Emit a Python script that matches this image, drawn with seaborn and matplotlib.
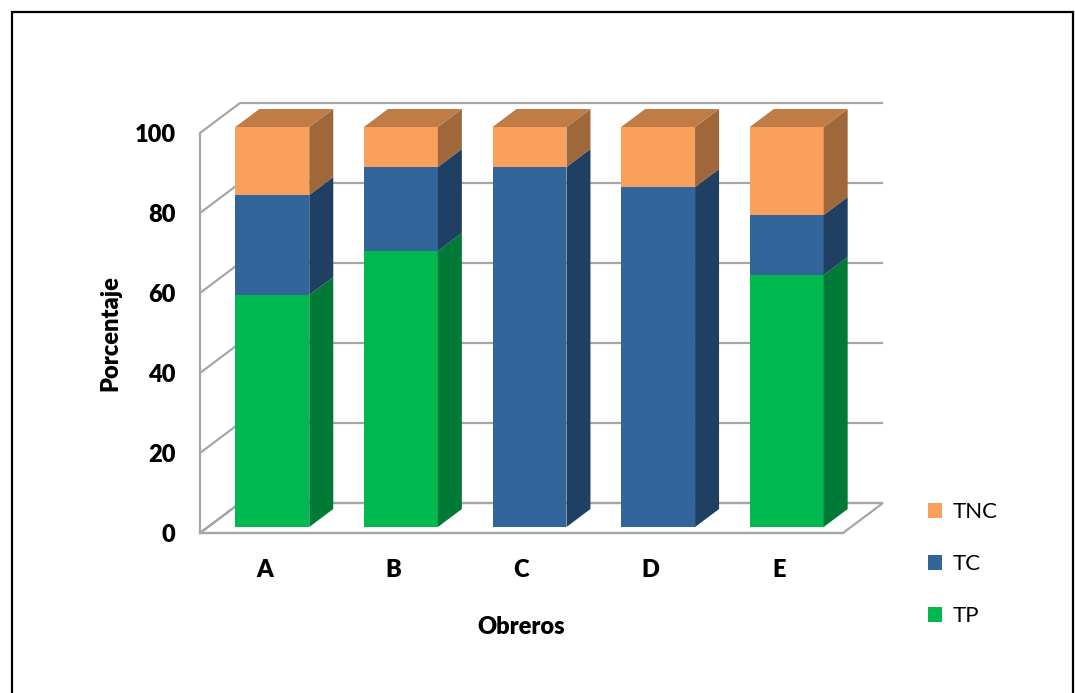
import numpy as np
import pandas as pd
import matplotlib
matplotlib.use("Agg")
import matplotlib.pyplot as plt
import seaborn as sns
from matplotlib.patches import Polygon, Rectangle, Patch

# ---------------- data ----------------
categories = ["A", "B", "C", "D", "E"]
tp = [58, 69, 0, 0, 63]
tc = [25, 21, 90, 85, 15]
tnc = [17, 10, 10, 15, 22]
y_ticks = [0, 20, 40, 60, 80, 100]
legend_labels = ["TNC", "TC", "TP"]

# ---------------- style ----------------
front_colors = {"TP": "#00B850", "TC": "#32659A", "TNC": "#F8A05C"}
side_colors = {"TP": "#007A36", "TC": "#1F3F63", "TNC": "#A0673A"}
top_colors = {"TP": "#00A048", "TC": "#2B5A8A", "TNC": "#C07C47"}
grid_c = "#A6A6A6"
bold_w = "heavy"

sns.set_style("white")
plt.rcParams["font.family"] = ["Lato", "DejaVu Sans"]
plt.rcParams["text.color"] = "black"
plt.rcParams["axes.labelcolor"] = "black"
plt.rcParams["xtick.labelcolor"] = "black"
plt.rcParams["ytick.labelcolor"] = "black"

W, H = 1075, 693
fig = plt.figure(figsize=(W / 100, H / 100), dpi=100)
ax = fig.add_axes([200 / W, 160 / H, 643 / W, 400 / H])

df = pd.DataFrame({"Obrero": categories, "TP": tp, "TC": tc, "TNC": tnc})
df["cum_TC"] = df["TP"] + df["TC"]
df["cum_TNC"] = df["cum_TC"] + df["TNC"]

bar_w = 0.575
dx_full, dy_full = 0.311, 7.5     # full depth of the 3-D box in data units
f0, f1 = 0.2, 0.8                 # bar front / back depth fractions

for col, name in [("cum_TNC", "TNC"), ("cum_TC", "TC"), ("TP", "TP")]:
    sns.barplot(data=df, x="Obrero", y=col, color=front_colors[name],
                saturation=1, width=bar_w, ax=ax, linewidth=0,
                errorbar=None, zorder=3)

for p in ax.patches:
    p.set_x(p.get_x() + f0 * dx_full)
    p.set_y(p.get_y() + f0 * dy_full)
    p.set_clip_on(False)

ax.set_xlim(-0.5, 4.5)
ax.set_ylim(0, 100)

# side and top faces
ddx = (f1 - f0) * dx_full
ddy = (f1 - f0) * dy_full
for i in range(len(categories)):
    xl = i - bar_w / 2 + f0 * dx_full
    xr = i + bar_w / 2 + f0 * dx_full
    bottom = 0
    last = None
    for name, val in [("TP", tp[i]), ("TC", tc[i]), ("TNC", tnc[i])]:
        if val <= 0:
            continue
        y0 = bottom + f0 * dy_full
        y1 = bottom + val + f0 * dy_full
        ax.add_patch(Polygon([(xr, y0), (xr, y1), (xr + ddx, y1 + ddy), (xr + ddx, y0 + ddy)],
                             closed=True, fc=side_colors[name], ec="none", zorder=3, clip_on=False))
        bottom += val
        last = name
    top = bottom + f0 * dy_full
    ax.add_patch(Polygon([(xl, top), (xr, top), (xr + ddx, top + ddy), (xl + ddx, top + ddy)],
                         closed=True, fc=top_colors[last], ec="none", zorder=3, clip_on=False))

# floor
xL, xR = -0.5, 4.5
ax.add_patch(Polygon([(xL, 0), (xR, 0), (xR + dx_full, dy_full), (xL + dx_full, dy_full)],
                     closed=True, fc="white", ec=grid_c, lw=1.6, zorder=0.5, clip_on=False))

# back-wall gridlines and left-wall diagonals
for v in y_ticks:
    ax.plot([xL + dx_full, xR + dx_full], [v + dy_full, v + dy_full], color=grid_c, lw=1.6,
            zorder=1, clip_on=False, solid_capstyle="butt")
    ax.plot([xL, xL + dx_full], [v, v + dy_full], color=grid_c, lw=1.6,
            zorder=1, clip_on=False, solid_capstyle="butt")

# axes styling
for s in ["top", "right"]:
    ax.spines[s].set_visible(False)
for s in ["left", "bottom"]:
    ax.spines[s].set_color(grid_c)
    ax.spines[s].set_linewidth(1.6)
ax.set_yticks(y_ticks)
ax.set_yticklabels([str(v) for v in y_ticks])
ax.tick_params(axis="y", length=6.5, width=1.6, color=grid_c, labelcolor="black", pad=11, labelsize=17)
ax.tick_params(axis="x", length=0, pad=19, labelsize=17, labelcolor="black")
for lbl in ax.get_yticklabels() + ax.get_xticklabels():
    lbl.set_fontweight(bold_w)
ax.set_facecolor("none")

ax.set_xlabel("Obreros", fontsize=17, fontweight=bold_w, color="black")
ax.xaxis.set_label_coords(0.5, -0.208)
ax.set_ylabel("Porcentaje", fontsize=17, fontweight=bold_w, color="black")
ax.yaxis.set_label_coords((121 - 200) / 643, 0.5)

handles = [Patch(fc=front_colors[n], ec="none", label=n) for n in legend_labels]
leg = fig.legend(handles=handles, loc="upper left", bbox_to_anchor=(928 / W, 1 - 502 / H),
                 frameon=False, fontsize=16, handlelength=0.65, handleheight=0.65,
                 handletextpad=0.45, labelspacing=1.45, borderaxespad=0, borderpad=0)
for t in leg.get_texts():
    t.set_color("black")

# outer frame
fig.patches.append(Rectangle((12 / W, -0.02), (1073 - 12) / W, 1 - 12 / H + 0.02,
                             transform=fig.transFigure, fill=False, ec="black", lw=1.6))

fig.savefig("out.png", dpi=100)
